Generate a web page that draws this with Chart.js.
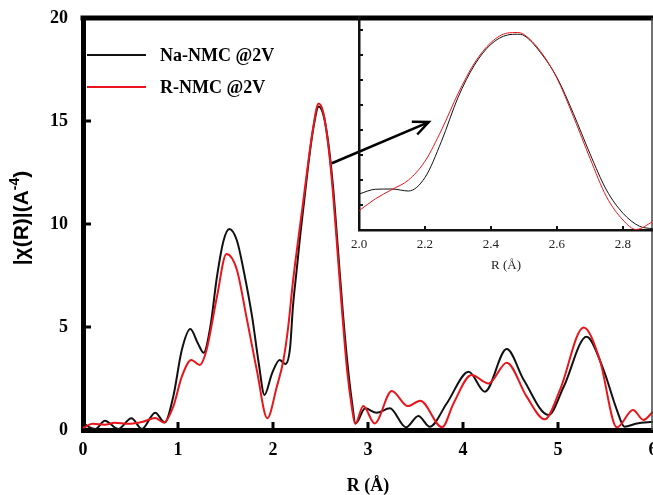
<!DOCTYPE html>
<html>
<head>
<meta charset="utf-8">
<script src="https://cdn.jsdelivr.net/npm/chart.js@4.4.1/dist/chart.umd.min.js"></script>
<style>
  html, body { margin: 0; padding: 0; background: #fff; }
  #marco { position: relative; width: 653px; height: 495px; overflow: hidden; }
  #principal { position: absolute; left: 0; top: 0; }
  #recuadro { position: absolute; left: 300px; top: 0; }
</style>
</head>
<body>
<div id="marco">
  <canvas id="principal" width="653" height="495"></canvas>
  <canvas id="recuadro" width="353" height="280"></canvas>
</div>
<script>
// Datos: |chi(R)| frente a R (Å)
const naR = [0, 0.06, 0.13, 0.23, 0.37, 0.51, 0.62, 0.76, 0.86, 0.95,
    1.04, 1.13, 1.21, 1.27, 1.34, 1.41, 1.48, 1.54, 1.62, 1.69,
    1.78, 1.85, 1.91, 1.99, 2.07, 2.13, 2.18, 2.21, 2.25, 2.29,
    2.33, 2.38, 2.43, 2.48, 2.53, 2.58, 2.63, 2.68, 2.73, 2.78,
    2.83, 2.87, 2.97, 3.09, 3.23, 3.4, 3.53, 3.65, 3.83, 4.06,
    4.23, 4.46, 4.64, 4.9, 5.06, 5.3, 5.48, 5.62, 5.7, 5.83, 6.0];
const naVal = [0.36, 0.15, 0.05, 0.45, 0.05, 0.57, 0.05, 0.84, 0.36, 1.62,
    3.88, 4.9, 4.2, 3.75, 5.0, 7.44, 9.2, 9.76, 9.2, 7.77,
    5.5, 3.24, 1.7, 2.75, 3.4, 3.2, 4.0, 6.0, 7.8, 9.6,
    11.2, 13.2, 14.8, 15.7, 15.3, 14.0, 11.9, 9.0, 6.0, 3.4,
    1.4, 0.32, 1.05, 0.84, 1.05, 0.13, 0.68, 0.16, 1.3, 2.83,
    1.86, 3.93, 2.43, 0.73, 2.1, 4.53, 2.91, 0.97, 0.16, 0.32, 0.4];

const rR = [0, 0.1, 0.23, 0.33, 0.48, 0.63, 0.76, 0.85, 0.95, 1.04,
    1.14, 1.23, 1.3, 1.41, 1.51, 1.62, 1.72, 1.83, 1.94, 2.04,
    2.11, 2.16, 2.21, 2.27, 2.31, 2.36, 2.42, 2.48, 2.53, 2.58,
    2.63, 2.68, 2.73, 2.78, 2.83, 2.865, 2.95, 3.07, 3.25, 3.42,
    3.55, 3.78, 3.9, 4.09, 4.27, 4.46, 4.67, 4.86, 5.02, 5.27,
    5.44, 5.62, 5.79, 5.9, 6.0];
const rVal = [0.1, 0.3, 0.26, 0.35, 0.3, 0.4, 0.58, 0.36, 1.13, 2.59,
    3.4, 3.16, 3.88, 6.47, 8.54, 7.77, 5.5, 2.9, 0.57, 2.1,
    3.4, 5.0, 7.2, 9.4, 10.8, 12.6, 14.6, 15.85, 15.4, 13.9,
    11.6, 8.6, 5.6, 2.9, 1.1, 0.3, 1.16, 0.32, 1.89, 1.16,
    1.42, 0.13, 1.29, 2.67, 2.26, 3.27, 1.62, 0.52, 1.94, 4.98,
    3.4, 0.13, 0.97, 0.49, 0.89];

// Recuadro (zoom del pico principal, eje y sin etiquetas)
const insetNaR = [2.0, 2.05, 2.1, 2.15, 2.2, 2.25, 2.3, 2.35, 2.4, 2.45, 2.48, 2.5, 2.55, 2.6, 2.65, 2.7, 2.75, 2.8, 2.85, 2.89];
const insetNaVal = [1.44, 1.63, 1.64, 1.56, 2.1, 3.55, 5.3, 6.6, 7.43, 7.8, 7.83, 7.78, 7.1, 6.1, 4.65, 3.05, 1.6, 0.67, 0.15, 0.05];
const insetRR = [2.0, 2.05, 2.1, 2.15, 2.2, 2.25, 2.3, 2.35, 2.4, 2.45, 2.48, 2.5, 2.55, 2.6, 2.65, 2.7, 2.75, 2.8, 2.84, 2.89];
const insetRVal = [0.77, 1.25, 1.62, 2.0, 2.75, 4.0, 5.45, 6.68, 7.5, 7.88, 7.9, 7.82, 7.15, 6.07, 4.53, 2.87, 1.33, 0.4, 0.02, 0.33];

// Marcas de los ejes
const xTicks = [0, 1, 2, 3, 4, 5, 6];
const yTicks = [0, 5, 10, 15, 20];
const insetXTicks = [2.0, 2.2, 2.4, 2.6, 2.8];
const insetYTicks = [1, 2, 3, 4, 5, 6, 7, 8];

// Flecha que señala el recuadro (en coordenadas de datos)
const flecha = { desde: [2.62, 12.95], hasta: [3.64, 14.95] };

const etiquetas = ['Na-NMC @2V', 'R-NMC @2V'];
const colores = ['#111111', '#e8161c'];

const puntos = (xs, ys) => xs.map((x, i) => ({ x: x, y: ys[i] }));
const serif = 'Liberation Serif, Times New Roman, serif';

// Dibuja marcas hacia dentro, borde superior, flecha, leyenda y título del eje y
const extrasPrincipal = {
    id: 'extrasPrincipal',
    afterDraw(chart) {
        const { ctx, chartArea: a, scales: { x, y } } = chart;
        ctx.save();
        ctx.strokeStyle = '#000';

        // borde superior grueso
        ctx.lineWidth = 5;
        ctx.beginPath();
        ctx.moveTo(a.left - 2.5, a.top);
        ctx.lineTo(a.right, a.top);
        ctx.stroke();

        // borde derecho fino
        ctx.lineWidth = 1.5;
        ctx.strokeStyle = '#444';
        ctx.beginPath();
        ctx.moveTo(a.right - 1, a.top);
        ctx.lineTo(a.right - 1, a.bottom);
        ctx.stroke();

        // marcas hacia dentro
        ctx.strokeStyle = '#000';
        ctx.lineWidth = 3;
        x.ticks.forEach(t => {
            if (t.value <= x.min || t.value >= x.max) return;
            const px = x.getPixelForValue(t.value);
            ctx.beginPath();
            ctx.moveTo(px, a.bottom);
            ctx.lineTo(px, a.bottom - 8);
            ctx.stroke();
        });
        y.ticks.forEach(t => {
            if (t.value <= y.min || t.value >= y.max) return;
            const py = y.getPixelForValue(t.value);
            ctx.beginPath();
            ctx.moveTo(a.left, py);
            ctx.lineTo(a.left + 8, py);
            ctx.stroke();
        });

        // flecha
        const x0 = x.getPixelForValue(flecha.desde[0]);
        const y0 = y.getPixelForValue(flecha.desde[1]);
        const x1 = x.getPixelForValue(flecha.hasta[0]);
        const y1 = y.getPixelForValue(flecha.hasta[1]);
        const ang = Math.atan2(y1 - y0, x1 - x0);
        ctx.lineWidth = 2.5;
        ctx.beginPath();
        ctx.moveTo(x0, y0);
        ctx.lineTo(x1, y1);
        ctx.stroke();
        ctx.beginPath();
        ctx.moveTo(x1 - 17 * Math.cos(ang - 0.42), y1 - 17 * Math.sin(ang - 0.42));
        ctx.lineTo(x1, y1);
        ctx.lineTo(x1 - 17 * Math.cos(ang + 0.42), y1 - 17 * Math.sin(ang + 0.42));
        ctx.stroke();

        // leyenda
        ctx.font = 'bold 18px ' + serif;
        ctx.textBaseline = 'middle';
        chart.data.datasets.forEach((ds, i) => {
            const ly = a.top + 37 + i * 32;
            ctx.strokeStyle = ds.borderColor;
            ctx.lineWidth = 2;
            ctx.beginPath();
            ctx.moveTo(a.left + 4, ly);
            ctx.lineTo(a.left + 63, ly);
            ctx.stroke();
            ctx.fillStyle = '#000';
            ctx.fillText(ds.label, a.left + 77, ly + 1);
        });

        // título del eje y con superíndice
        const principal = '|\u03C7(R)|(A';
        const sup = '-4';
        const cierre = ')';
        ctx.translate(22, (a.top + a.bottom) / 2 - 6);
        ctx.rotate(-Math.PI / 2);
        ctx.fillStyle = '#000';
        ctx.font = 'bold 21px Liberation Sans, Arial, sans-serif';
        const w1 = ctx.measureText(principal).width;
        const w3 = ctx.measureText(cierre).width;
        ctx.font = 'bold 14px Liberation Sans, Arial, sans-serif';
        const w2 = ctx.measureText(sup).width;
        let cx = -(w1 + w2 + w3) / 2;
        ctx.textBaseline = 'middle';
        ctx.font = 'bold 21px Liberation Sans, Arial, sans-serif';
        ctx.fillText(principal, cx, 0);
        cx += w1;
        ctx.font = 'bold 14px Liberation Sans, Arial, sans-serif';
        ctx.fillText(sup, cx, -7);
        cx += w2;
        ctx.font = 'bold 21px Liberation Sans, Arial, sans-serif';
        ctx.fillText(cierre, cx, 0);

        ctx.restore();
    }
};

const principal = new Chart(document.getElementById('principal'), {
    type: 'line',
    data: {
        datasets: [
            {
                label: etiquetas[0],
                data: puntos(naR, naVal),
                borderColor: colores[0],
                borderWidth: 2,
                pointRadius: 0,
                cubicInterpolationMode: 'monotone',
                order: 1
            },
            {
                label: etiquetas[1],
                data: puntos(rR, rVal),
                borderColor: colores[1],
                borderWidth: 2,
                pointRadius: 0,
                cubicInterpolationMode: 'monotone',
                order: 0
            }
        ]
    },
    options: {
        responsive: false,
        animation: false,
        devicePixelRatio: 1,
        layout: { padding: { top: 18, right: 0, left: 0, bottom: 0 } },
        plugins: { legend: { display: false }, tooltip: { enabled: false } },
        scales: {
            x: {
                type: 'linear',
                min: 0,
                max: 6,
                afterBuildTicks: s => { s.ticks = xTicks.map(v => ({ value: v })); },
                afterFit: s => { s.height = 65; s.paddingLeft = 0; s.paddingRight = 0; },
                ticks: {
                    color: '#000',
                    padding: 10,
                    maxRotation: 0,
                    autoSkip: false,
                    font: { family: serif, weight: 'bold', size: 18 }
                },
                grid: { display: false, drawTicks: false },
                border: { display: true, color: '#000', width: 5 },
                title: {
                    display: true,
                    text: 'R (Å)',
                    color: '#000',
                    padding: { top: 0, bottom: 0 },
                    font: { family: serif, weight: 'bold', size: 18, lineHeight: 1 }
                }
            },
            y: {
                min: 0,
                max: 20,
                afterBuildTicks: s => { s.ticks = yTicks.map(v => ({ value: v })); },
                afterFit: s => { s.width = 83; s.paddingTop = 0; s.paddingBottom = 0; },
                ticks: {
                    color: '#000',
                    padding: 15,
                    font: { family: serif, weight: 'bold', size: 18 }
                },
                grid: { display: false, drawTicks: false },
                border: { display: true, color: '#000', width: 5 }
            }
        }
    },
    plugins: [extrasPrincipal]
});

// Marcas hacia dentro del recuadro
const extrasRecuadro = {
    id: 'extrasRecuadro',
    afterDraw(chart) {
        const { ctx, chartArea: a, scales: { x, y } } = chart;
        ctx.save();
        ctx.strokeStyle = '#111';
        ctx.lineWidth = 2;
        x.ticks.forEach(t => {
            if (t.value <= x.min + 1e-6) return;
            const px = x.getPixelForValue(t.value);
            ctx.beginPath();
            ctx.moveTo(px, a.bottom);
            ctx.lineTo(px, a.bottom - 4);
            ctx.stroke();
        });
        y.ticks.forEach(t => {
            const py = y.getPixelForValue(t.value);
            ctx.beginPath();
            ctx.moveTo(a.left, py);
            ctx.lineTo(a.left + 4, py);
            ctx.stroke();
        });
        ctx.restore();
    }
};

const recuadro = new Chart(document.getElementById('recuadro'), {
    type: 'line',
    data: {
        datasets: [
            {
                label: etiquetas[0],
                data: puntos(insetNaR, insetNaVal),
                borderColor: colores[0],
                borderWidth: 1,
                pointRadius: 0,
                cubicInterpolationMode: 'monotone',
                order: 1
            },
            {
                label: etiquetas[1],
                data: puntos(insetRR, insetRVal),
                borderColor: colores[1],
                borderWidth: 1,
                pointRadius: 0,
                cubicInterpolationMode: 'monotone',
                order: 0
            }
        ]
    },
    options: {
        responsive: false,
        animation: false,
        devicePixelRatio: 1,
        layout: { padding: { top: 17, right: 0, left: 0, bottom: 0 } },
        plugins: { legend: { display: false }, tooltip: { enabled: false } },
        scales: {
            x: {
                type: 'linear',
                min: 2.0,
                max: 2.891,
                afterBuildTicks: s => { s.ticks = insetXTicks.map(v => ({ value: v })); },
                afterFit: s => { s.height = 50; s.paddingLeft = 0; s.paddingRight = 0; },
                ticks: {
                    color: '#222',
                    padding: 7,
                    maxRotation: 0,
                    autoSkip: false,
                    callback: v => Number(v).toFixed(1),
                    font: { family: serif, size: 13 }
                },
                grid: { display: false, drawTicks: false },
                border: { display: true, color: '#111', width: 2.5 },
                title: {
                    display: true,
                    text: 'R (Å)',
                    color: '#222',
                    padding: { top: 0, bottom: 8 },
                    font: { family: serif, size: 13, lineHeight: 1 }
                }
            },
            y: {
                min: 0,
                max: 8.52,
                afterBuildTicks: s => { s.ticks = insetYTicks.map(v => ({ value: v })); },
                afterFit: s => { s.width = 59; s.paddingTop = 0; s.paddingBottom = 0; },
                ticks: { display: false },
                grid: { display: false, drawTicks: false },
                border: { display: true, color: '#111', width: 2.5 }
            }
        }
    },
    plugins: [extrasRecuadro]
});
</script>
</body>
</html>
